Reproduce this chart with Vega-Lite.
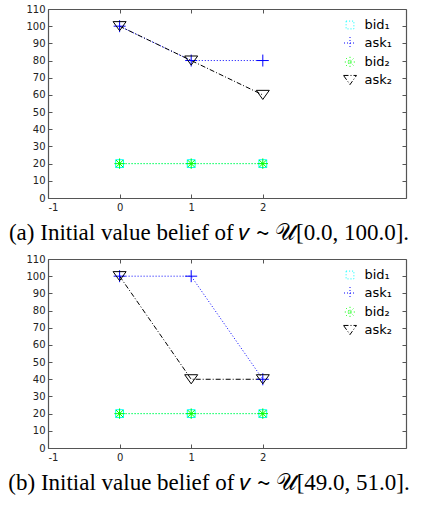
{
  "$schema": "https://vega.github.io/schema/vega-lite/v6.json",
  "padding": {"left": 5, "top": 4, "right": 5, "bottom": 5},
  "background": "white",
  "data": {"values": [
    {"panel": "a", "series": "bid₁", "t": 0, "v": 20},
    {"panel": "a", "series": "bid₁", "t": 1, "v": 20},
    {"panel": "a", "series": "bid₁", "t": 2, "v": 20},
    {"panel": "a", "series": "ask₁", "t": 0, "v": 100},
    {"panel": "a", "series": "ask₁", "t": 1, "v": 80},
    {"panel": "a", "series": "ask₁", "t": 2, "v": 80},
    {"panel": "a", "series": "bid₂", "t": 0, "v": 20},
    {"panel": "a", "series": "bid₂", "t": 1, "v": 20},
    {"panel": "a", "series": "bid₂", "t": 2, "v": 20},
    {"panel": "a", "series": "ask₂", "t": 0, "v": 100},
    {"panel": "a", "series": "ask₂", "t": 1, "v": 80},
    {"panel": "a", "series": "ask₂", "t": 2, "v": 60},
    {"panel": "b", "series": "bid₁", "t": 0, "v": 20},
    {"panel": "b", "series": "bid₁", "t": 1, "v": 20},
    {"panel": "b", "series": "bid₁", "t": 2, "v": 20},
    {"panel": "b", "series": "ask₁", "t": 0, "v": 100},
    {"panel": "b", "series": "ask₁", "t": 1, "v": 100},
    {"panel": "b", "series": "ask₁", "t": 2, "v": 40},
    {"panel": "b", "series": "bid₂", "t": 0, "v": 20},
    {"panel": "b", "series": "bid₂", "t": 1, "v": 20},
    {"panel": "b", "series": "bid₂", "t": 2, "v": 20},
    {"panel": "b", "series": "ask₂", "t": 0, "v": 100},
    {"panel": "b", "series": "ask₂", "t": 1, "v": 40},
    {"panel": "b", "series": "ask₂", "t": 2, "v": 40}
  ]},
  "config": {
    "view": {"stroke": null},
    "axis": {
      "domainColor": "#555", "tickColor": "#555", "domainWidth": 1.2, "tickWidth": 1,
      "labelFont": "DejaVu Sans", "labelFontSize": 10, "labelColor": "#222",
      "grid": false, "tickSize": -4, "labelPadding": 8, "title": null
    },
    "legend": {
      "labelFont": "DejaVu Sans", "labelFontSize": 13, "labelColor": "black",
      "symbolSize": 169, "rowPadding": 3, "labelOffset": 7.5,
      "orient": "none", "legendX": 295, "legendY": 9, "title": null, "padding": 0,
      "symbolStrokeWidth": 1, "symbolDash": [1, 0], "symbolOpacity": 1
    },
    "title": {
      "font": "Liberation Serif", "fontSize": 23, "fontWeight": "normal", "color": "black",
      "orient": "bottom", "anchor": "middle", "frame": "group", "dx": -18, "offset": 10
    }
  },
  "spacing": 9,
  "resolve": {
    "scale": {"color": "independent", "shape": "independent", "strokeDash": "independent"},
    "legend": {"color": "independent", "shape": "independent", "strokeDash": "independent"}
  },
  "vconcat": [
    {
      "width": 358, "height": 189,
      "title": {"text": "(a) Initial value belief of 𝑣 ∼ 𝒰[0.0, 100.0]."},
      "transform": [{"filter": "datum.panel == 'a'"}],
      "encoding": {
        "color": {"field": "series", "type": "nominal",
          "scale": {"domain": ["bid₁", "ask₁", "bid₂", "ask₂"], "range": ["#00FFFF", "#0000FF", "#00FF00", "#000000"]},
          "legend": {"encode": {"symbols": {"update": {
            "shape": {"signal": "datum.value == 'bid₁' ? 'M-1.54,0H1.54M-0.6,-0.6H0.6V0.6H-0.6Z' : datum.value == 'ask₁' ? 'M-1.54,0H1.54M0,-0.92V0.92' : datum.value == 'bid₂' ? 'M-1.54,0H1.54M0,-0.8V0.8M-0.57,-0.57L0.57,0.57M-0.57,0.57L0.57,-0.57' : 'M-1.54,0H1.54M-1,-0.7H1L0,0.7Z'"},
            "fill": {"value": "transparent"},
            "strokeWidth": {"value": 1},
            "strokeDash": {"value": [1, 0]},
            "opacity": {"value": 1}
          }}}}
        }
      },
      "layer": [
        {
          "mark": {"type": "line", "strokeWidth": 1},
          "encoding": {
            "x": {"field": "t", "type": "quantitative", "scale": {"domain": [-1, 4], "nice": false, "zero": false},
              "axis": {"orient": "bottom", "values": [-1, 0, 1, 2], "labelExpr": "'' + datum.value"}},
            "y": {"field": "v", "type": "quantitative", "scale": {"domain": [0, 110], "nice": false},
              "axis": {"orient": "left", "values": [0, 10, 20, 30, 40, 50, 60, 70, 80, 90, 100, 110], "labelPadding": 7}},
            "strokeDash": {"field": "series", "type": "nominal", "legend": null,
              "scale": {"domain": ["bid₁", "ask₁", "bid₂", "ask₂"], "range": [[1, 2], [1, 2], [1, 2], [5, 2, 1, 2]]}}
          }
        },
        {
          "mark": {"type": "point", "filled": false, "size": 169, "strokeWidth": 1, "opacity": 1},
          "encoding": {
            "x": {"field": "t", "type": "quantitative",
              "axis": {"orient": "top", "values": [-1, 0, 1, 2], "labels": false}},
            "y": {"field": "v", "type": "quantitative",
              "axis": {"orient": "right", "values": [0, 10, 20, 30, 40, 50, 60, 70, 80, 90, 100, 110], "labels": false}},
            "shape": {"field": "series", "type": "nominal", "legend": null,
              "scale": {"domain": ["bid₁", "ask₁", "bid₂", "ask₂"], "range": ["M-0.6,-0.6H0.6V0.6H-0.6Z", "M-0.92,0H0.92M0,-0.92V0.92", "M-0.8,0H0.8M0,-0.8V0.8M-0.57,-0.57L0.57,0.57M-0.57,0.57L0.57,-0.57", "M-1,-0.7H1L0,0.7Z"]}}
          }
        }
      ],
      "resolve": {"axis": {"x": "independent", "y": "independent"}}
    },
    {
      "width": 358, "height": 189,
      "title": {"text": "(b) Initial value belief of 𝑣 ∼ 𝒰[49.0, 51.0]."},
      "transform": [{"filter": "datum.panel == 'b'"}],
      "encoding": {
        "color": {"field": "series", "type": "nominal",
          "scale": {"domain": ["bid₁", "ask₁", "bid₂", "ask₂"], "range": ["#00FFFF", "#0000FF", "#00FF00", "#000000"]},
          "legend": {"encode": {"symbols": {"update": {
            "shape": {"signal": "datum.value == 'bid₁' ? 'M-1.54,0H1.54M-0.6,-0.6H0.6V0.6H-0.6Z' : datum.value == 'ask₁' ? 'M-1.54,0H1.54M0,-0.92V0.92' : datum.value == 'bid₂' ? 'M-1.54,0H1.54M0,-0.8V0.8M-0.57,-0.57L0.57,0.57M-0.57,0.57L0.57,-0.57' : 'M-1.54,0H1.54M-1,-0.7H1L0,0.7Z'"},
            "fill": {"value": "transparent"},
            "strokeWidth": {"value": 1},
            "strokeDash": {"value": [1, 0]},
            "opacity": {"value": 1}
          }}}}
        }
      },
      "layer": [
        {
          "mark": {"type": "line", "strokeWidth": 1},
          "encoding": {
            "x": {"field": "t", "type": "quantitative", "scale": {"domain": [-1, 4], "nice": false, "zero": false},
              "axis": {"orient": "bottom", "values": [-1, 0, 1, 2], "labelExpr": "'' + datum.value"}},
            "y": {"field": "v", "type": "quantitative", "scale": {"domain": [0, 110], "nice": false},
              "axis": {"orient": "left", "values": [0, 10, 20, 30, 40, 50, 60, 70, 80, 90, 100, 110], "labelPadding": 7}},
            "strokeDash": {"field": "series", "type": "nominal", "legend": null,
              "scale": {"domain": ["bid₁", "ask₁", "bid₂", "ask₂"], "range": [[1, 2], [1, 2], [1, 2], [5, 2, 1, 2]]}}
          }
        },
        {
          "mark": {"type": "point", "filled": false, "size": 169, "strokeWidth": 1, "opacity": 1},
          "encoding": {
            "x": {"field": "t", "type": "quantitative",
              "axis": {"orient": "top", "values": [-1, 0, 1, 2], "labels": false}},
            "y": {"field": "v", "type": "quantitative",
              "axis": {"orient": "right", "values": [0, 10, 20, 30, 40, 50, 60, 70, 80, 90, 100, 110], "labels": false}},
            "shape": {"field": "series", "type": "nominal", "legend": null,
              "scale": {"domain": ["bid₁", "ask₁", "bid₂", "ask₂"], "range": ["M-0.6,-0.6H0.6V0.6H-0.6Z", "M-0.92,0H0.92M0,-0.92V0.92", "M-0.8,0H0.8M0,-0.8V0.8M-0.57,-0.57L0.57,0.57M-0.57,0.57L0.57,-0.57", "M-1,-0.7H1L0,0.7Z"]}}
          }
        }
      ],
      "resolve": {"axis": {"x": "independent", "y": "independent"}}
    }
  ]
}
